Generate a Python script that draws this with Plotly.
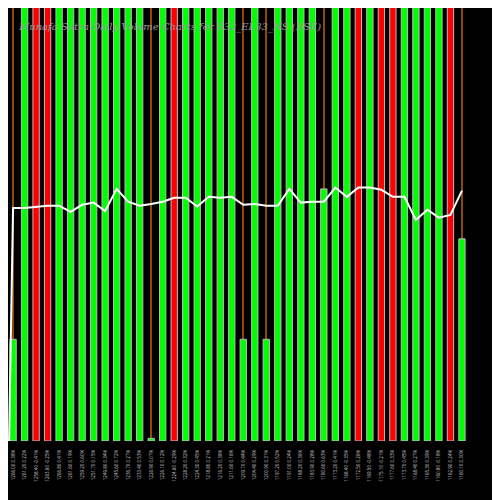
import plotly.graph_objects as go

# bar heights as fraction of plot height (values above 1 are clipped at the top)
volumes = [0.23, 1.2, 1.2, 1.2, 1.2, 1.2, 1.2, 1.2, 1.2, 1.2,
           1.2, 1.2, 0.006, 1.2, 1.2, 1.2, 1.2, 1.2, 1.2, 1.2,
           0.23, 1.2, 0.23, 1.2, 1.2, 1.2, 1.2, 0.57, 1.2, 1.2,
           1.2, 1.2, 1.2, 1.2, 1.2, 1.2, 1.2, 1.2, 1.2, 0.457]
colors = ["g", "g", "r", "r", "g", "g", "g", "g", "g", "g",
          "g", "g", "g", "g", "r", "g", "g", "g", "g", "g",
          "g", "g", "g", "g", "g", "g", "g", "g", "g", "g",
          "r", "g", "r", "r", "g", "g", "g", "g", "r", "g"]
price_line = [0.527, 0.527, 0.530, 0.532, 0.532, 0.518, 0.534, 0.539, 0.520, 0.570,
              0.541, 0.532, 0.536, 0.541, 0.550, 0.550, 0.530, 0.552, 0.550, 0.552,
              0.534, 0.536, 0.532, 0.532, 0.570, 0.539, 0.541, 0.541, 0.573, 0.552,
              0.573, 0.573, 0.568, 0.552, 0.552, 0.500, 0.523, 0.505, 0.511, 0.566]
tick_labels = ["1266.00 0.38%", "1261.20 0.22%", "1258.40 -0.41%", "1263.60 -0.25%",
               "1266.80 0.41%", "1261.60 0.19%", "1259.20 0.60%", "1251.70 0.15%",
               "1249.80 0.34%", "1245.60 0.72%", "1236.70 0.27%", "1233.40 0.53%",
               "1226.90 0.07%", "1226.10 0.12%", "1224.60 -0.29%", "1228.20 0.32%",
               "1224.30 0.45%", "1218.80 0.21%", "1216.20 0.38%", "1211.60 0.16%",
               "1209.70 0.44%", "1204.40 0.29%", "1200.90 0.31%", "1197.20 0.52%",
               "1191.00 0.24%", "1188.20 0.36%", "1183.90 0.28%", "1180.60 0.63%",
               "1173.20 0.41%", "1168.40 -0.35%", "1172.50 0.26%", "1169.50 -0.48%",
               "1175.10 -0.21%", "1177.60 0.33%", "1173.70 0.45%", "1168.40 0.27%",
               "1165.30 0.39%", "1160.80 -0.18%", "1162.90 0.24%", "1160.10 0.30%"]

idx = list(range(1, len(volumes) + 1))
fill = {"g": "#00ff00", "r": "#ff0000"}

fig = go.Figure()
# thin orange guide lines behind each bar
fig.add_trace(go.Bar(x=idx, y=[1.2] * len(idx), width=0.09,
                     marker=dict(color="#8b4a0a", line=dict(width=0)),
                     hoverinfo="skip"))
fig.add_trace(go.Bar(x=idx, y=volumes, width=0.55,
                     marker=dict(color=[fill[c] for c in colors],
                                 line=dict(color="#bbbbbb", width=1))))
fig.add_trace(go.Scatter(x=[0.65] + idx, y=[0] + price_line, mode="lines",
                         line=dict(color="white", width=2)))

fig.update_layout(
    width=500, height=500, showlegend=False, barmode="overlay",
    paper_bgcolor="black", plot_bgcolor="black",
    margin=dict(l=0, r=0, t=0, b=67, autoexpand=False),
    title=dict(text="Munafa Sutra Daily Volume Charts for S32_EL33_NS (BSE)",
               x=0.022, xanchor="left", y=0.97,
               font=dict(family="DejaVu Serif", size=10, color="#999999", style="italic")),
    xaxis=dict(range=[0.56, 44.0], tickvals=idx, ticktext=tick_labels,
               tickangle=-90, tickfont=dict(size=4.5, color="#cccccc"),
               showgrid=False, zeroline=False, showline=False,
               ticks="outside", ticklen=6, tickcolor="black",
               automargin=False),
    yaxis=dict(range=[0, 0.979], visible=False, showgrid=False),
)

fig.write_html("out.html")
